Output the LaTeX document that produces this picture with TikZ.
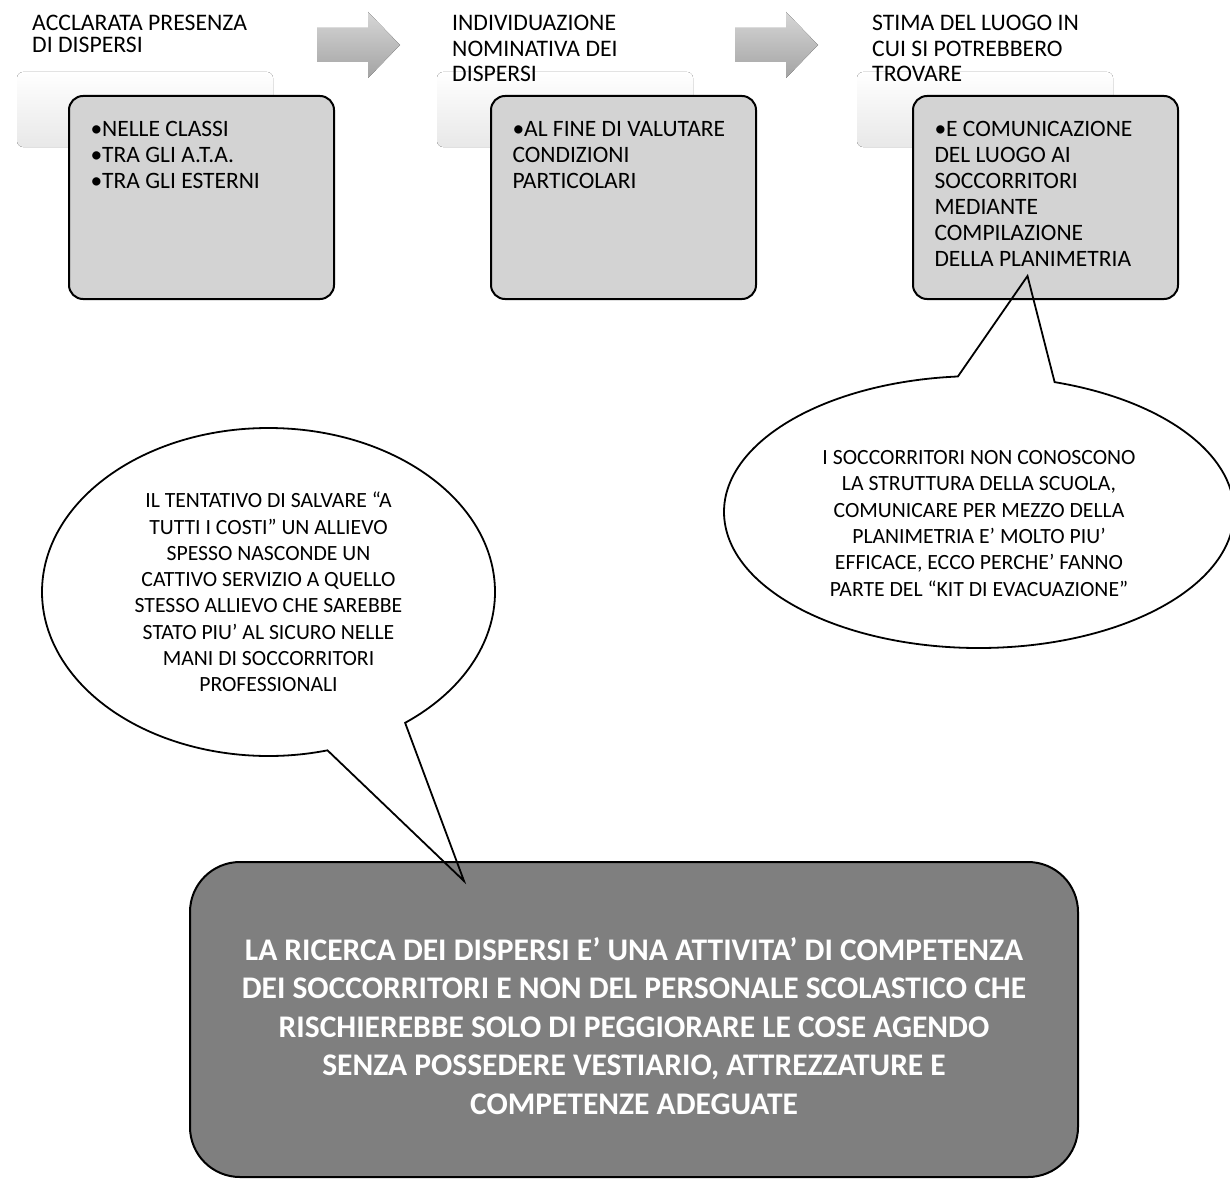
\documentclass[tikz,border=0pt]{standalone}
\usepackage{fontspec}
\setmainfont{Carlito}
\usetikzlibrary{shapes.callouts,positioning,calc}

\definecolor{subfill}{HTML}{D3D3D3}
\definecolor{verdictfill}{HTML}{7F7F7F}

% one bullet line, continuation lines hang under the text
\newcommand{\stepitem}[1]{\par\noindent\setbox0\hbox{•}\hangindent=\wd0 \hangafter=1 \box0 #1}
\newcommand{\steplist}[1]{\parbox[c][152pt][t]{222pt}{\raggedright #1}}

\tikzset{
	step head/.style={anchor=north west, inner sep=0pt, align=left,
		font=\fontsize{23.7}{25.5}\selectfont},
	step shade/.style={rounded corners=6pt, top color=white, bottom color=black!9},
	step box/.style={draw=black, line width=2pt, fill=subfill, rounded corners=14pt,
		anchor=north west, inner sep=0pt, minimum width=265pt, minimum height=203pt,
		font=\fontsize{23.5}{26}\selectfont},
	step arrow/.style={top color=black!16, bottom color=black!36},
	bubble/.style={ellipse callout, draw=black, line width=1.8pt, callout pointer arc=22,
		inner sep=0pt, align=center, font=\fontsize{21.7}{26.3}\selectfont},
	verdict/.style={draw=black, line width=2pt, fill=verdictfill, rounded corners=50pt,
		text=white, align=center, font=\bfseries\fontsize{31.5}{38.5}\selectfont,
		minimum width=888pt, minimum height=315pt}
}

\begin{document}
\begin{tikzpicture}[x=1pt, y=-1pt]
   \useasboundingbox (0,0) rectangle (1230,1180);
   % faint blocks under the step titles
   \foreach \k in {0,1,2}
      \fill[step shade] ({17+420*\k},72) rectangle ++(256,75);
   % block arrows between the steps
   \foreach \ax in {317,735}
      \fill[step arrow] (\ax,28) -- ++(51,0) -- ++(0,-16) -- ++(32,33) -- ++(-32,33)
         -- ++(0,-16) -- ++(-51,0) -- cycle;

   \node[step head, font=\fontsize{23.7}{22}\selectfont] (headA) at (32,15) {ACCLARATA PRESENZA\\DI DISPERSI};
   \node[step head] (headB) at (452,15) {INDIVIDUAZIONE\\NOMINATIVA DEI\\DISPERSI};
   \node[step head] (headC) at (872,15) {STIMA DEL LUOGO IN\\CUI SI POTREBBERO\\TROVARE};

   \node[step box] (subA) at (68,95) {\steplist{\stepitem{NELLE CLASSI}
      \stepitem{TRA GLI A.T.A.}\stepitem{TRA GLI ESTERNI}}};
   \node[step box, right=155pt of subA] (subB) {\steplist{\stepitem{AL FINE DI VALUTARE\\
      CONDIZIONI\\PARTICOLARI}}};
   \node[step box, right=155pt of subB] (subC) {\steplist{\stepitem{E COMUNICAZIONE\\
      DEL LUOGO AI\\SOCCORRITORI\\MEDIANTE\\COMPILAZIONE\\DELLA PLANIMETRIA}}};

   \node[verdict] (verdict) at (634,1019.5) {\rule{0pt}{36pt}LA RICERCA DEI DISPERSI E’ UNA ATTIVITA’ DI COMPETENZA\\
      DEI SOCCORRITORI E NON DEL PERSONALE SCOLASTICO CHE\\
      RISCHIEREBBE SOLO DI PEGGIORARE LE COSE AGENDO\\
      SENZA POSSEDERE VESTIARIO, ATTREZZATURE E\\
      COMPETENZE ADEGUATE};

   \coordinate (tipR) at ($(subC.south)+(-18,-24)$);
   \coordinate (tipL) at ($(verdict.north west)+(275,20)$);
   \node[bubble, minimum width=510pt, minimum height=272pt, callout absolute pointer={(tipR)}]
      (noteR) at (979,512) {\rule{0pt}{37pt}I SOCCORRITORI NON CONOSCONO\\LA STRUTTURA DELLA SCUOLA,\\
      COMUNICARE PER MEZZO DELLA\\PLANIMETRIA E’ MOLTO PIU’\\
      EFFICACE, ECCO PERCHE’ FANNO\\PARTE DEL “KIT DI EVACUAZIONE”};
   \node[bubble, minimum width=453pt, minimum height=328pt, callout absolute pointer={(tipL)}]
      (noteL) at (268.5,592) {IL TENTATIVO DI SALVARE “A\\TUTTI I COSTI” UN ALLIEVO\\
      SPESSO NASCONDE UN\\CATTIVO SERVIZIO A QUELLO\\STESSO ALLIEVO CHE SAREBBE\\
      STATO PIU’ AL SICURO NELLE\\MANI DI SOCCORRITORI\\PROFESSIONALI};
\end{tikzpicture}
\end{document}
